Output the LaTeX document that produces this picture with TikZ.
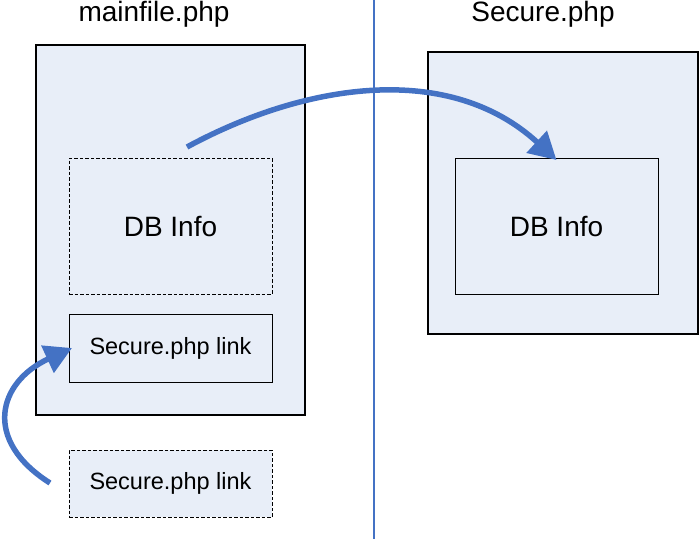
\documentclass[tikz,border=0pt]{standalone}
\usepackage{fontspec}
\setmainfont{Liberation Sans}
\usetikzlibrary{arrows.meta}
\definecolor{boxfill}{HTML}{E8EEF8}
\definecolor{arrblue}{HTML}{4472C4}
\tikzset{
  panel/.style={draw=black, line width=1.4pt, fill=boxfill, minimum width=#1, inner sep=0pt, outer sep=0pt},
  inbox/.style={draw=black, line width=1pt, fill=boxfill, inner sep=0pt, outer sep=0pt, minimum width=203pt},
  dashbox/.style={inbox, dash pattern=on 3.5pt off 2pt},
  bigtxt/.style={font=\fontsize{28}{31}\selectfont},
  smalltxt/.style={font=\fontsize{23.5}{27}\selectfont},
  flowarrow/.style={draw=arrblue, line width=5.5pt, -{Triangle[length=27pt,width=29pt]}},
}
\begin{document}
\begin{tikzpicture}[x=1pt,y=-1pt]
\useasboundingbox (0,0) rectangle (700,539);
% titles
\node[bigtxt, anchor=base] (t1) at (154,21) {mainfile.php};
\node[bigtxt, anchor=base] (t2) at (543,21) {Secure.php};
% divider
\coordinate (vtop) at (374,0);
\coordinate (vbot) at (374,539);
\draw[arrblue, line width=1.5pt] (vtop) -- (vbot);
% left panel
\node[panel=269pt, minimum height=370pt] (main) at (170.5,230) {};
\node[dashbox, minimum height=136pt, bigtxt] (db1) at (170.5,226) {DB Info};
\node[inbox, minimum height=68pt, smalltxt] (link) at (170.5,348) {Secure.php link};
\node[dashbox, minimum height=67pt, smalltxt] (link2) at (170.5,483.5) {Secure.php link};
% right panel
\node[panel=270pt, minimum height=282pt] (sec) at (563,193) {};
\node[inbox, minimum height=136pt, bigtxt] (db2) at (556.5,226) {DB Info};
% arrows
\coordinate (a1s) at (187,147);
\coordinate (a1e) at ([yshift=-2pt]db2.north);
\draw[flowarrow] (a1s) .. controls (307,82) and (450,62) .. (a1e);
\coordinate (a2s) at (50,483);
\coordinate (a2e) at ([xshift=3pt]link.west);
\draw[flowarrow] (a2s) .. controls (-18,440) and (-2,382) .. (a2e);
\end{tikzpicture}
\end{document}
